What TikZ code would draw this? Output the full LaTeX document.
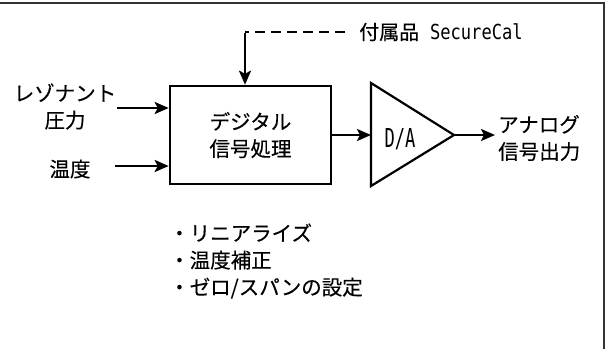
\documentclass[tikz,border=0pt]{standalone}
\usepackage{fontspec}
\usepackage{graphicx}
\setmainfont{Noto Sans CJK JP}[FakeBold=0.25]
\newfontfamily\monof{DejaVu Sans Mono}
\usetikzlibrary{arrows.meta}
\tikzset{
  frame/.style={line width=2pt, draw=black!80},
  procbox/.style={draw, line width=2.6pt, minimum width=161pt, minimum height=98pt, inner sep=0pt, align=center},
  tri/.style={line width=2.2pt, line join=miter},
  arr/.style={line width=2.4pt, -{Stealth[length=14pt,width=12pt,inset=3pt]}},
  dashline/.style={line width=2.2pt, dash pattern=on 10pt off 6pt},
  txt/.style={inner sep=0pt, font=\fontsize{20.5pt}{27pt}\selectfont},
  mono/.style={inner sep=0pt, font=\monof\fontsize{18pt}{22pt}\selectfont}
}
\begin{document}
\begin{tikzpicture}[x=1pt,y=-1pt]
\useasboundingbox (0,0) rectangle (607,349);
\draw[frame] (0,3) -- (604,3) -- (604,349);
% main processing box
\node[procbox, txt] (dsp) at (250.5,135) {デジタル\\信号処理};
% DAC triangle
\coordinate (tl) at (371,83);
\coordinate (bl) at (371,186);
\coordinate (tip) at (454,135);
\coordinate (dacin) at (371,135);
\draw[tri] (tl) -- (tip) -- (bl) -- cycle;
\node[mono] (da) at (400,139) {\scalebox{0.95}[1.45]{D/A}};
% inputs
\node[txt, align=center] (res) at (65,106.5) {レゾナント\\圧力};
\node[txt] (temp) at (70,169) {温度};
\coordinate (in1) at (117,108);
\coordinate (in2) at (115,166);
\draw[arr] (in1) -- (in1 -| dsp.west);
\draw[arr] (in2) -- (in2 -| dsp.west);
% connection to DAC and output
\draw[arr] (dsp.east |- dacin) -- (dacin);
\node[txt, align=left, anchor=west] (out) at (498,138) {アナログ\\信号出力};
\draw[arr] (tip) -- ([xshift=-3pt]out.west |- tip);
% SecureCal
\coordinate (cal) at (245,32);
\node[mono, anchor=west, inner xsep=14pt] (calt) at (345,32) {{\fontsize{20pt}{22pt}\selectfont\rmfamily 付属品} \scalebox{0.95}[1.15]{SecureCal}};
\draw[dashline] (calt.west) -- (cal);
\draw[arr] ([yshift=-1.1pt]cal) -- (cal |- dsp.north);
% feature list
\node[txt, align=left, anchor=west] (list) at (169,261) {・リニアライズ\\・温度補正\\・ゼロ/スパンの設定};
\end{tikzpicture}
\end{document}
